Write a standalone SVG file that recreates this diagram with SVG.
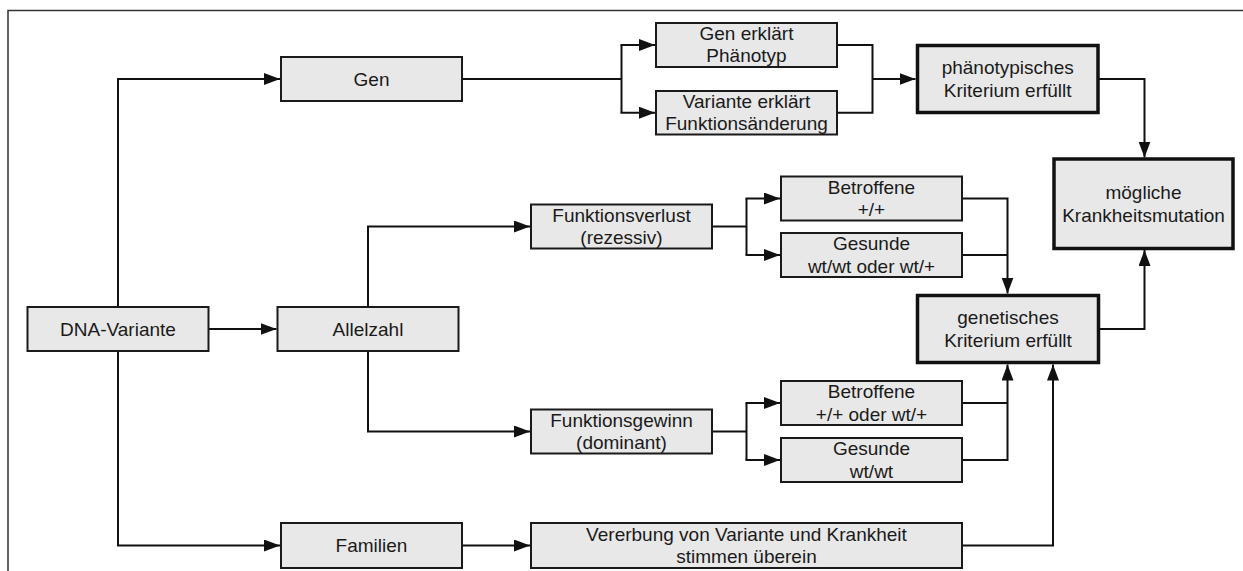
<svg xmlns="http://www.w3.org/2000/svg" width="1243" height="571" viewBox="0 0 1243 571">
<defs>
<style>
.box{fill:#e8e8e8;stroke:#1a1a1a;stroke-width:2}
.thick{fill:#e8e8e8;stroke:#111;stroke-width:3.5}
.t{font-family:"Liberation Sans",Arial,sans-serif;font-size:19px;fill:#1a1a1a;text-anchor:middle}
.c{fill:none;stroke:#111;stroke-width:2}
.a{fill:none;stroke:#111;stroke-width:2;marker-end:url(#ah)}
</style>
<marker id="ah" markerUnits="userSpaceOnUse" markerWidth="16" markerHeight="12" refX="16" refY="6" orient="auto">
<path d="M0,0 L16,6 L0,12 z" fill="#111"/>
</marker>
</defs>
<rect width="1243" height="571" fill="#fff"/>
<path d="M8,571 V10.5 H1243" fill="none" stroke="#333" stroke-width="1.5"/>

<g id="connectors">
<path class="a" d="M118,307 V79 H280"/>
<path class="a" d="M208.5,329 H276.5"/>
<path class="a" d="M118,351 V545.5 H280"/>
<path class="a" d="M368,307 V226.5 H530"/>
<path class="a" d="M368,351 V431.5 H530"/>
<path class="a" d="M462,545.5 H530"/>
<path class="c" d="M462,79 H621.5"/>
<path class="c" d="M621.5,45 V112.7"/>
<path class="a" d="M620.5,45 H655"/>
<path class="a" d="M620.5,112.7 H655"/>
<path class="c" d="M837,45 H872.5 V112.7 H837"/>
<path class="a" d="M872.5,79 H915.5"/>
<path class="a" d="M1099,79 H1144.5 V157.5"/>
<path class="c" d="M712,226.5 H746.5"/>
<path class="c" d="M746.5,198.5 V255"/>
<path class="a" d="M745.5,198.5 H780"/>
<path class="a" d="M745.5,255 H780"/>
<path class="a" d="M962,198.5 H1007.5 V293.5"/>
<path class="c" d="M962,255 H1007.5"/>
<path class="c" d="M712,431.5 H746.5"/>
<path class="c" d="M746.5,403 V460"/>
<path class="a" d="M745.5,403 H780"/>
<path class="a" d="M745.5,460 H780"/>
<path class="c" d="M962,403 H1007.5"/>
<path class="a" d="M962,460 H1007.5 V364.5"/>
<path class="a" d="M962,545.5 H1053 V364.5"/>
<path class="a" d="M1099,329 H1144.5 V250"/>
</g>

<g id="n-dna"><rect class="box" x="27.5" y="307" width="181" height="44"/><text class="t" x="118" y="335.5">DNA-Variante</text></g>
<g id="n-gen"><rect class="box" x="281" y="57" width="181" height="44"/><text class="t" x="371.5" y="85.5">Gen</text></g>
<g id="n-allel"><rect class="box" x="277.5" y="307" width="181" height="44"/><text class="t" x="368" y="335.5">Allelzahl</text></g>
<g id="n-fam"><rect class="box" x="281" y="523" width="181" height="45"/><text class="t" x="371.5" y="552">Familien</text></g>
<g id="n-genphaen"><rect class="box" x="656" y="23" width="181" height="44"/><text class="t" x="746.5" y="39.5">Gen erklärt</text><text class="t" x="746.5" y="62">Phänotyp</text></g>
<g id="n-varfunk"><rect class="box" x="656" y="91" width="181" height="43.5"/><text class="t" x="746.5" y="107.5">Variante erklärt</text><text class="t" x="746.5" y="130">Funktionsänderung</text></g>
<g id="n-verlust"><rect class="box" x="531" y="204.5" width="181" height="44"/><text class="t" x="621.5" y="221.5">Funktionsverlust</text><text class="t" x="621.5" y="244">(rezessiv)</text></g>
<g id="n-gewinn"><rect class="box" x="531" y="409.5" width="181" height="44"/><text class="t" x="621.5" y="426.5">Funktionsgewinn</text><text class="t" x="621.5" y="449">(dominant)</text></g>
<g id="n-betr1"><rect class="box" x="781" y="176.5" width="181" height="44"/><text class="t" x="871.5" y="193.5">Betroffene</text><text class="t" x="871.5" y="216">+/+</text></g>
<g id="n-ges1"><rect class="box" x="781" y="233" width="181" height="44"/><text class="t" x="871.5" y="250">Gesunde</text><text class="t" x="871.5" y="272.5">wt/wt oder wt/+</text></g>
<g id="n-betr2"><rect class="box" x="781" y="381" width="181" height="44"/><text class="t" x="871.5" y="398">Betroffene</text><text class="t" x="871.5" y="420.5">+/+ oder wt/+</text></g>
<g id="n-ges2"><rect class="box" x="781" y="438" width="181" height="44"/><text class="t" x="871.5" y="455">Gesunde</text><text class="t" x="871.5" y="477.5">wt/wt</text></g>
<g id="n-vererb"><rect class="box" x="531" y="523" width="431" height="45"/><text class="t" x="746.5" y="540.5">Vererbung von Variante und Krankheit</text><text class="t" x="746.5" y="563">stimmen überein</text></g>
<g id="n-phaen"><rect class="thick" x="917.5" y="45.5" width="180.5" height="67"/><text class="t" x="1007.7" y="74">phänotypisches</text><text class="t" x="1007.7" y="96.5">Kriterium erfüllt</text></g>
<g id="n-genet"><rect class="thick" x="917.5" y="295.5" width="181" height="67"/><text class="t" x="1008" y="324">genetisches</text><text class="t" x="1008" y="346.5">Kriterium erfüllt</text></g>
<g id="n-moegl"><rect class="thick" x="1054" y="159" width="179" height="89.5"/><text class="t" x="1143.5" y="199">mögliche</text><text class="t" x="1143.5" y="221.5">Krankheitsmutation</text></g>
</svg>
